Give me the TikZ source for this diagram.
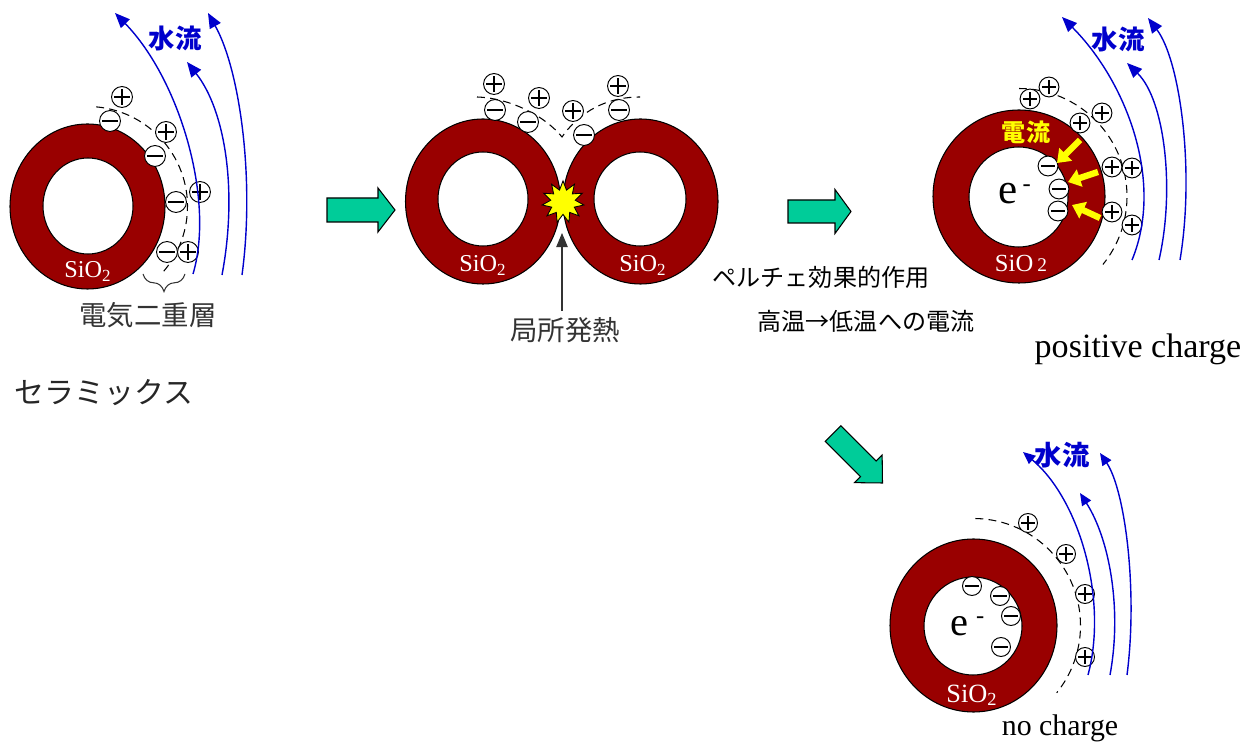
\documentclass[tikz,border=0pt]{standalone}
\usepackage{fontspec}
\setmainfont{Liberation Serif}
\newfontfamily\jp{Noto Sans CJK JP}
\usetikzlibrary{arrows.meta,decorations.pathreplacing,shapes.geometric}
\definecolor{oxide}{RGB}{153,0,0}
\definecolor{blockgreen}{RGB}{0,204,153}
\definecolor{flowblue}{RGB}{0,0,204}
\definecolor{hotyellow}{RGB}{255,255,0}
\newcommand\setfs[1]{\fontsize{#1}{#1}\selectfont}

\begin{document}
\begin{tikzpicture}[x=0.02cm,y=-0.02cm,
  ring/.style={draw=black,line width=0.6pt,fill=oxide},
  hole/.style={draw=black,line width=0.6pt,fill=white},
  sio/.style={text=white,anchor=base,inner sep=0pt,font=\setfs{13.8}},
  layer/.style={dashed,dash pattern=on 4.5pt off 3pt,line width=0.6pt},
  ion/.style={circle,draw,fill=white,inner sep=0pt,line width=0.55pt,minimum size=#1},
  pos/.style={ion=#1,path picture={
      \draw[line width=1.15pt]
        ([xshift=-0.36*#1]path picture bounding box.center) -- ([xshift=0.36*#1]path picture bounding box.center)
        ([yshift=-0.36*#1]path picture bounding box.center) -- ([yshift=0.36*#1]path picture bounding box.center);}},
  neg/.style={ion=#1,path picture={
      \draw[line width=1.15pt]
        ([xshift=-0.36*#1]path picture bounding box.center) -- ([xshift=0.36*#1]path picture bounding box.center);}},
  pos/.default=11.9pt, neg/.default=11.9pt,
  flow/.style={flowblue,line width=0.8pt,-{Triangle[length=8.5pt,width=7pt]}},
  smallflow/.style={flowblue,line width=0.8pt,-{Triangle[length=7pt,width=6pt]}},
  water/.style={text=flowblue,font=\jp\bfseries\setfs{15}},
  block/.style={draw=black,line width=0.6pt,fill=blockgreen,line join=miter},
  heat/.style={hotyellow,line width=3.6pt,-{Triangle[length=7pt,width=10pt]}},
  jplabel/.style={font=\jp\setfs{15.6},text=black!80},
]
\useasboundingbox (0,0) rectangle (1257,742);

% ---------------- particle in water: electric double layer ----------------
\coordinate (r1) at (87.5,206.5);
\draw[ring] (r1) ellipse [x radius=77.5,y radius=82.5];
\draw[hole] (88,206) ellipse [x radius=45,y radius=48];
\node[sio] (s1) at (88,278) {SiO\textsubscript{2}};
\draw[layer] (r1) ++(-85:100) arc[start angle=-85,end angle=41,radius=100];
\foreach \p/\q [count=\i] in {110/121,155/156,176/202,167/252}
  \node[neg] (n1\i) at (\p,\q) {};
\foreach \p/\q [count=\i] in {122/97,166/132,200/192,188/252}
  \node[pos] (p1\i) at (\p,\q) {};
\coordinate (f1a) at (193,274); \coordinate (f1b) at (115,13);
\coordinate (f2a) at (222,275); \coordinate (f2b) at (187,62);
\coordinate (f3a) at (242,275); \coordinate (f3b) at (208,13);
\draw[flow] (f1a) .. controls (215,200) and (180,80) .. (f1b);
\draw[flow] (f2a) .. controls (238,190) and (225,110) .. (f2b);
\draw[flow] (f3a) .. controls (255,180) and (240,70) .. (f3b);
\node[water] (w1) at (175,39) {水流};
\coordinate (brR) at (185,274); \coordinate (brL) at (143,274);
\draw[black!80,line width=0.6pt,decorate,decoration={brace,amplitude=10pt}] (brR) -- (brL);
\node[jplabel] (edl) at (148,315) {電気二重層};
\node[font=\jp\setfs{17},text=black!85] (cer) at (104,393) {セラミックス};

% ---------------- arrow 1 ----------------
\begin{scope}[shift={(327,210)}]
  \draw[block] (0,-12) -- (51,-12) -- (51,-22) -- (68,0) -- (51,22) -- (51,12) -- (0,12) -- cycle;
\end{scope}

% ---------------- two touching particles ----------------
\draw[ring] (483,201.5) ellipse [x radius=77.5,y radius=82.5];
\draw[hole] (483,199) ellipse [x radius=45,y radius=47];
\draw[ring] (640.5,201.5) ellipse [x radius=77.5,y radius=82.5];
\draw[hole] (640,199) ellipse [x radius=46,y radius=47];
\node[sio] (s2) at (483,272) {SiO\textsubscript{2}};
\node[sio] (s3) at (643,272) {SiO\textsubscript{2}};
\draw[layer] (477,97) .. controls (510,98) and (545,116) .. (562,137)
             .. controls (575,118) and (600,97) .. (640,97);
\foreach \p/\q [count=\i] in {494/84,539/98,573/111,618/86}
  \node[pos] (p2\i) at (\p,\q) {};
\foreach \p/\q [count=\i] in {495/110,528/122,584/135,619/110}
  \node[neg] (n2\i) at (\p,\q) {};
\node[star,star points=11,star point ratio=1.7,minimum size=24pt,inner sep=0pt,
      draw=black,line width=0.5pt,fill=hotyellow] (spark) at (563,202) {};
\node[jplabel] (hot) at (565,330) {局所発熱};
\coordinate (hottip) at (562,233);
\draw[black!80,line width=0.6pt,-{Triangle[length=8pt,width=6.5pt]}] (hottip |- hot.north) -- (hottip);

% ---------------- arrow 2 ----------------
\begin{scope}[shift={(788,211.5)}]
  \draw[block] (0,-11.5) -- (47,-11.5) -- (47,-22) -- (63,0) -- (47,22) -- (47,11.5) -- (0,11.5) -- cycle;
\end{scope}
\node[font=\jp\setfs{13.7}] (peltier) at (821,277) {ペルチェ効果的作用};
\node[font=\jp\setfs{13.7}] (hotcold) at (866,321) {高温→低温への電流};

% ---------------- charged particle ----------------
\coordinate (r3) at (1019,196.5);
\draw[ring] (r3) ellipse [x radius=86,y radius=86.5];
\draw[hole] (1018.5,197) ellipse [x radius=49.5,y radius=50];
\node[anchor=base west,inner sep=0pt,font=\setfs{24.5}] (e3) at (998,204) {e\hspace{3pt}\raisebox{7.3pt}{\setfs{14}-}};
\node[text=white,anchor=base,inner sep=0pt,font=\setfs{14}] (s4) at (1021,272) {SiO\,{\setfs{11}2}};
\node[font=\jp\bfseries\setfs{13.7},text=hotyellow] (cur) at (1026,132) {電流};
\draw[layer] (r3) ++(-90:108) arc[start angle=-90,end angle=39,radius=108];
\foreach \p/\q [count=\i] in {1048/166,1059/189,1058/211}
  \node[neg=11.3pt] (n3\i) at (\p,\q) {};
\foreach \p/\q [count=\i] in {1030/99,1049/87,1080/123,1102/113,1112/167,1132/168,1112/212,1132/225}
  \node[pos=11.3pt] (p3\i) at (\p,\q) {};
\coordinate (ya1) at (1080,140); \coordinate (yt1) at (1057,163);
\coordinate (ya2) at (1098,172); \coordinate (yt2) at (1068,182);
\coordinate (ya3) at (1100,218); \coordinate (yt3) at (1072,205);
\draw[heat] (ya1) -- (yt1);
\draw[heat] (ya2) -- (yt2);
\draw[heat] (ya3) -- (yt3);
\coordinate (g1a) at (1132,260); \coordinate (g1b) at (1062,17);
\coordinate (g2a) at (1159,260); \coordinate (g2b) at (1127,63);
\coordinate (g3a) at (1180,260); \coordinate (g3b) at (1148,18);
\draw[flow] (g1a) .. controls (1165,180) and (1125,80) .. (g1b);
\draw[flow] (g2a) .. controls (1175,190) and (1165,100) .. (g2b);
\draw[flow] (g3a) .. controls (1195,170) and (1180,60) .. (g3b);
\node[water] (w3) at (1118,40) {水流};
\node[anchor=base,inner sep=0pt,font=\setfs{19.4}] (poslbl) at (1138,358) {positive charge};

% ---------------- arrow 3 ----------------
\begin{scope}[shift={(833,433.5)},rotate=-45]
  \draw[block] (0,-11) -- (50,-11) -- (50,-19.5) -- (70,0) -- (50,19.5) -- (50,11) -- (0,11) -- cycle;
\end{scope}

% ---------------- neutral particle ----------------
\coordinate (r4) at (973.5,625.5);
\draw[ring] (r4) ellipse [x radius=83.5,y radius=86.5];
\draw[hole] (973,626) ellipse [x radius=49,y radius=49];
\node[anchor=base west,inner sep=0pt,font=\setfs{23}] (e4) at (950,635) {e\hspace{4.5pt}\raisebox{6.7pt}{\setfs{14}-}};
\node[text=white,anchor=base,inner sep=0pt,font=\setfs{15}] (s5) at (972,702) {SiO\textsubscript{2}};
\draw[layer] (r4) ++(-89:107) arc[start angle=-89,end angle=39,radius=107];
\foreach \p/\q [count=\i] in {972/586,1000/596,1011/616,1001/647}
  \node[neg=10.8pt] (n4\i) at (\p,\q) {};
\foreach \p/\q [count=\i] in {1028/523,1066/554,1085/594,1085/657}
  \node[pos=10.8pt] (p4\i) at (\p,\q) {};
\coordinate (h1a) at (1088,675); \coordinate (h1b) at (1023,452);
\coordinate (h2a) at (1110,675); \coordinate (h2b) at (1080,493);
\coordinate (h3a) at (1127,675); \coordinate (h3b) at (1100,453);
\draw[smallflow] (h1a) .. controls (1108,600) and (1080,500) .. (h1b);
\draw[smallflow] (h2a) .. controls (1122,610) and (1110,540) .. (h2b);
\draw[smallflow] (h3a) .. controls (1138,590) and (1125,490) .. (h3b);
\node[water,font=\jp\bfseries\setfs{15.5}] (w4) at (1062,455) {水流};
\node[anchor=base,inner sep=0pt,font=\setfs{17}] (nolbl) at (1060,735) {no charge};
\end{tikzpicture}
\end{document}
